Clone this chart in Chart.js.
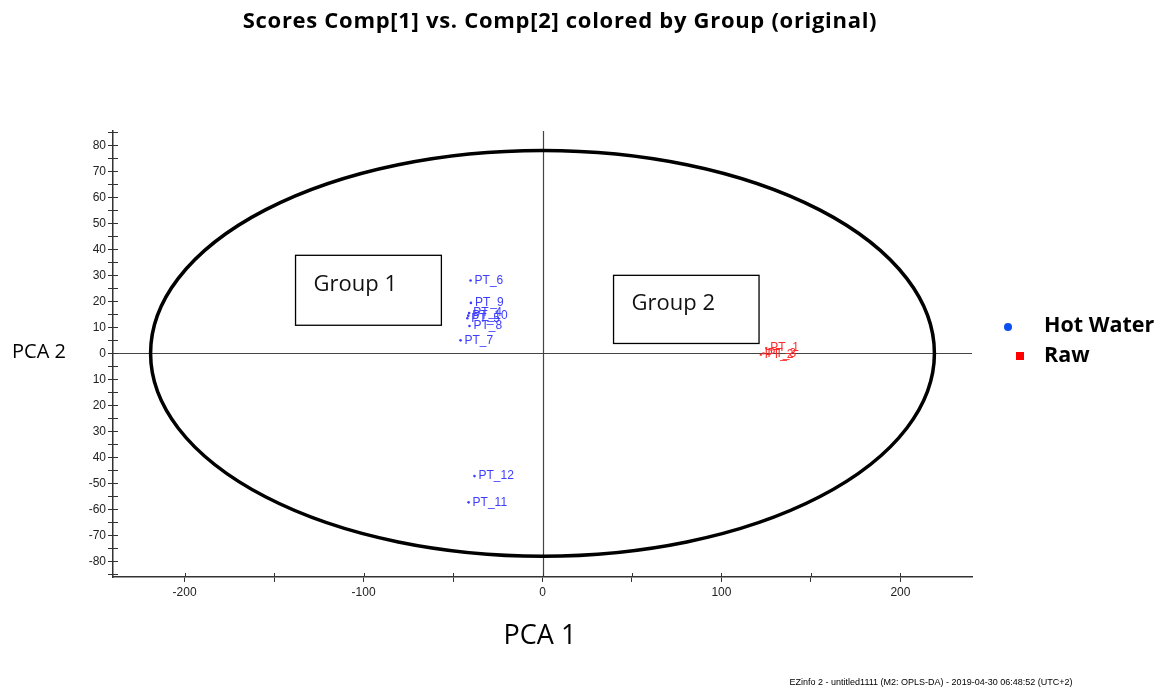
<!DOCTYPE html>
<html>
<head>
<meta charset="utf-8">
<script src="https://cdn.jsdelivr.net/npm/chart.js@4/dist/chart.umd.min.js"></script>
<style>
html, body { margin: 0; padding: 0; background: #fff; }
#wrap { width: 1162px; height: 689px; position: relative; }
</style>
</head>
<body>
<div id="wrap"><canvas id="chart" width="1162" height="689"></canvas></div>
<script>
// scores
const hotWaterLabels = ['PT_6', 'PT_9', 'PT_4', 'PT_10', 'PT_5', 'PT_8', 'PT_7', 'PT_12', 'PT_11'];
const hotWaterX = [-40.2, -40, -41, -41.5, -42, -40.8, -45.8, -38, -41.3];
const hotWaterY = [28, 19.4, 15.5, 14.5, 13.5, 10.5, 5, -47.2, -57.3];
const rawLabels = ['PT_1', 'PT_2', 'PT_3'];
const rawX = [125, 122, 123.5];
const rawY = [2, -0.5, 0];

const xTicks = [-200, -150, -100, -50, 0, 50, 100, 150, 200];
const xTickLabels = ['-200', '', '-100', '', '0', '', '100', '', '200'];
const yTicks = [-80, -70, -60, -50, -40, -30, -20, -10, 0, 10, 20, 30, 40, 50, 60, 70, 80];
const yTickLabels = ['-80', '-70', '-60', '-50', '40', '30', '20', '10', '0', '10', '20', '30', '40', '50', '60', '70', '80'];
const yMinorTicks = [-85, -75, -65, -55, -45, -35, -25, -15, -5, 5, 15, 25, 35, 45, 55, 65, 75, 85];

// Hotelling ellipse half axes and the two group boxes
const ellipseA = 219;
const ellipseB = 78;
const groupNames = ['Group 1', 'Group 2'];
const groupX1 = [-138, 39.7];
const groupX2 = [-56.5, 121];
const groupY1 = [37.7, 30];
const groupY2 = [10.8, 3.8];

const BLUE = '#3d3dff';
const RED = '#ff2a2a';

function toPoints(xs, ys) {
    return xs.map((x, i) => ({ x: x, y: ys[i] }));
}

const overlay = {
    id: 'overlay',
    beforeDatasetsDraw(chart) {
        const ctx = chart.ctx;
        const xs = chart.scales.x, ys = chart.scales.y;
        const area = chart.chartArea;
        ctx.save();
        // zero lines
        ctx.strokeStyle = '#444';
        ctx.lineWidth = 1.2;
        ctx.beginPath();
        const x0 = Math.round(xs.getPixelForValue(0)) + 0.5;
        const y0 = Math.round(ys.getPixelForValue(0)) + 0.5;
        ctx.moveTo(x0, area.top);
        ctx.lineTo(x0, area.bottom);
        ctx.moveTo(area.left, y0);
        ctx.lineTo(area.right, y0);
        ctx.stroke();
        // inner tick parts
        ctx.strokeStyle = '#333';
        ctx.lineWidth = 1;
        ctx.beginPath();
        xs.ticks.forEach(t => {
            const px = Math.round(xs.getPixelForValue(t.value)) + 0.5;
            ctx.moveTo(px, area.bottom);
            ctx.lineTo(px, area.bottom - 4);
        });
        ys.ticks.forEach(t => {
            const py = Math.round(ys.getPixelForValue(t.value)) + 0.5;
            ctx.moveTo(area.left, py);
            ctx.lineTo(area.left + 5, py);
        });
        ctx.stroke();
        // ellipse
        const cx = xs.getPixelForValue(0), cy = ys.getPixelForValue(0);
        const rx = xs.getPixelForValue(ellipseA) - cx;
        const ry = cy - ys.getPixelForValue(ellipseB);
        ctx.strokeStyle = '#000';
        ctx.lineWidth = 3.5;
        ctx.beginPath();
        ctx.ellipse(cx, cy, rx, ry, 0, 0, Math.PI * 2);
        ctx.stroke();
        // group boxes
        ctx.lineWidth = 1.3;
        ctx.font = '22px "Open Sans", sans-serif';
        ctx.textBaseline = 'middle';
        groupNames.forEach((name, i) => {
            const l = xs.getPixelForValue(groupX1[i]);
            const r = xs.getPixelForValue(groupX2[i]);
            const t = ys.getPixelForValue(groupY1[i]);
            const b = ys.getPixelForValue(groupY2[i]);
            ctx.fillStyle = '#fff';
            ctx.fillRect(l, t, r - l, b - t);
            ctx.strokeRect(l, t, r - l, b - t);
            ctx.fillStyle = '#111';
            ctx.fillText(name, l + 18, (t + b) / 2 - 6);
        });
        ctx.restore();
    },
    afterDatasetsDraw(chart) {
        const ctx = chart.ctx;
        ctx.save();
        ctx.font = '12px "Liberation Sans", Arial, sans-serif';
        ctx.textBaseline = 'middle';
        chart.data.datasets.forEach((ds, di) => {
            const meta = chart.getDatasetMeta(di);
            ctx.fillStyle = ds.borderColor;
            meta.data.forEach((el, i) => {
                ctx.fillText(ds.pointNames[i], el.x + 4, el.y);
            });
        });
        ctx.restore();
    },
    afterDraw(chart) {
        const ctx = chart.ctx;
        ctx.save();
        ctx.fillStyle = '#000';
        ctx.textAlign = 'center';
        ctx.textBaseline = 'middle';
        ctx.font = 'bold 22px "Open Sans", sans-serif';
        ctx.letterSpacing = '0.7px';
        ctx.fillText('Scores Comp[1] vs. Comp[2] colored by Group (original)', 560, 22);
        ctx.letterSpacing = '0px';
        ctx.font = '20px "Open Sans", sans-serif';
        ctx.fillText('PCA 2', 39, 352);
        ctx.font = '27px "Open Sans", sans-serif';
        ctx.fillText('PCA 1', 540, 636);
        ctx.font = '9px "Liberation Sans", Arial, sans-serif';
        ctx.fillText('EZinfo 2 - untitled1111 (M2: OPLS-DA) - 2019-04-30 06:48:52 (UTC+2)', 931, 683);
        // legend
        ctx.textAlign = 'left';
        ctx.fillStyle = '#0a50f0';
        ctx.beginPath();
        ctx.arc(1008, 327, 4, 0, Math.PI * 2);
        ctx.fill();
        ctx.fillStyle = '#f00';
        ctx.fillRect(1016, 352, 8, 8);
        ctx.fillStyle = '#000';
        ctx.font = 'bold 21.5px "Open Sans", sans-serif';
        ctx.fillText('Hot Water', 1044, 326);
        ctx.fillText('Raw', 1044, 356);
        ctx.restore();
    }
};

new Chart(document.getElementById('chart'), {
    type: 'scatter',
    data: {
        datasets: [
            {
                label: 'Hot Water',
                data: toPoints(hotWaterX, hotWaterY),
                pointNames: hotWaterLabels,
                backgroundColor: BLUE,
                borderColor: BLUE,
                pointStyle: 'circle',
                pointRadius: 1.3,
                borderWidth: 0
            },
            {
                label: 'Raw',
                data: toPoints(rawX, rawY),
                pointNames: rawLabels,
                backgroundColor: RED,
                borderColor: RED,
                pointStyle: 'rect',
                pointRadius: 1.5,
                borderWidth: 0
            }
        ]
    },
    options: {
        responsive: false,
        animation: false,
        layout: { padding: { left: 0, top: 131, right: 190, bottom: 0 } },
        plugins: {
            legend: { display: false },
            title: { display: false },
            tooltip: { enabled: false }
        },
        scales: {
            x: {
                type: 'linear',
                min: -240,
                max: 240,
                afterBuildTicks: s => { s.ticks = xTicks.map(v => ({ value: v })); },
                afterFit: s => { s.height = 112; },
                ticks: {
                    callback: (v, i) => xTickLabels[i],
                    font: { family: '"Liberation Sans", Arial, sans-serif', size: 12 },
                    color: '#222',
                    padding: 3,
                    maxRotation: 0,
                    autoSkip: false
                },
                grid: { drawOnChartArea: false, tickLength: 5, color: '#333' },
                border: { color: '#333', width: 1.5 }
            },
            y: {
                type: 'linear',
                min: -86,
                max: 85.5,
                afterBuildTicks: s => {
                    s.ticks = yTicks.concat(yMinorTicks).sort((a, b) => a - b).map(v => ({ value: v }));
                },
                afterFit: s => { s.width = 113; },
                ticks: {
                    callback: v => {
                        const k = yTicks.indexOf(v);
                        return k >= 0 ? yTickLabels[k] : '';
                    },
                    font: { family: '"Liberation Sans", Arial, sans-serif', size: 12 },
                    color: '#222',
                    padding: 2,
                    autoSkip: false
                },
                grid: { drawOnChartArea: false, tickLength: 5, color: '#333' },
                border: { color: '#333', width: 1.5 }
            }
        }
    },
    plugins: [overlay]
});
</script>
</body>
</html>
